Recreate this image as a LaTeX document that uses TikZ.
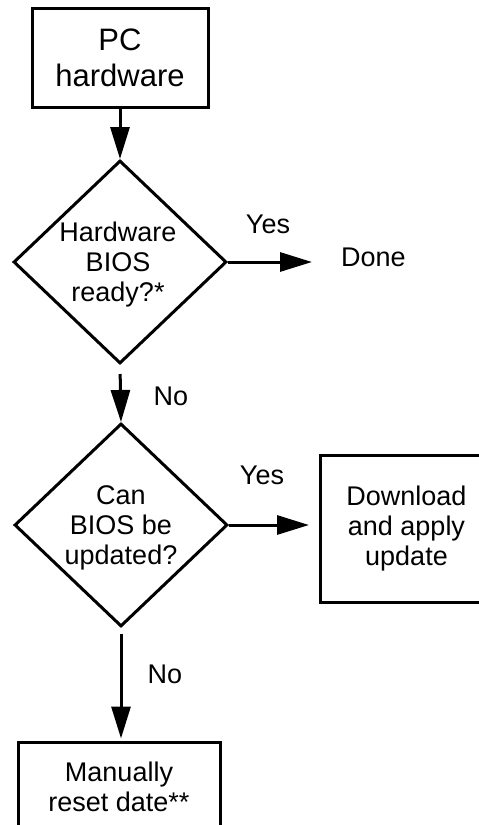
\documentclass[tikz,border=0pt]{standalone}
\usepackage{fontspec}
\setmainfont{Liberation Sans}
\usetikzlibrary{shapes.geometric,arrows.meta}

\begin{document}
\begin{tikzpicture}[x=1pt,y=-1pt,
  every node/.style={font=\fontsize{27}{30}\selectfont, align=center},
  stepbox/.style={draw, line width=3pt, rectangle, inner sep=0pt},
  decision/.style={draw, line width=3pt, diamond, inner sep=0pt,
    minimum width=213pt, minimum height=203pt},
  dtext/.style={inner sep=0pt},
  lbl/.style={inner sep=0pt},
  flow/.style={line width=3pt, -{Triangle[length=32pt,width=19pt]}}
]
\useasboundingbox (0,0) rectangle (479,825);
\clip (0,0) rectangle (479,825);

% process boxes
\node[stepbox, minimum width=176pt, minimum height=99pt,
  font=\fontsize{31}{36}\selectfont] (pc) at (120,57.5) {PC\\hardware};
\node[stepbox, anchor=west, minimum width=172pt, minimum height=147pt] (dl)
  at (319,528.5) {Download\\and apply\\update};
\node[stepbox, minimum width=202pt, minimum height=90pt] (man)
  at (119,787) {Manually\\reset date**};

% decisions
\node[decision] (d1) at (120,262) {};
\node[dtext] at (118,265) {Hardware\\BIOS\\ready?*};
\node[decision] (d2) at (121,525) {};
\node[dtext] at (121,528) {Can\\BIOS be\\updated?};

% terminal text
\node[lbl, anchor=west, inner xsep=29pt] (done) at (312,257) {Done};

% connectors
\draw[flow] (pc.south) -- (d1.north);
\draw[flow] (d1.east) -- (d1.east -| done.west);
\draw[flow, shorten <=9pt] (d1.south) -- (d2.north);
\draw[flow, shorten >=10pt] (d2.east) -- (d2.east -| dl.west);
\draw[flow, shorten <=6pt, shorten >=2pt] (d2.south) -- (d2.south |- man.north);

% branch labels
\node[lbl] at (268,224) {Yes};
\node[lbl] at (262,475) {Yes};
\node[lbl] at (171,396) {No};
\node[lbl] at (165,674) {No};
\end{tikzpicture}
\end{document}
